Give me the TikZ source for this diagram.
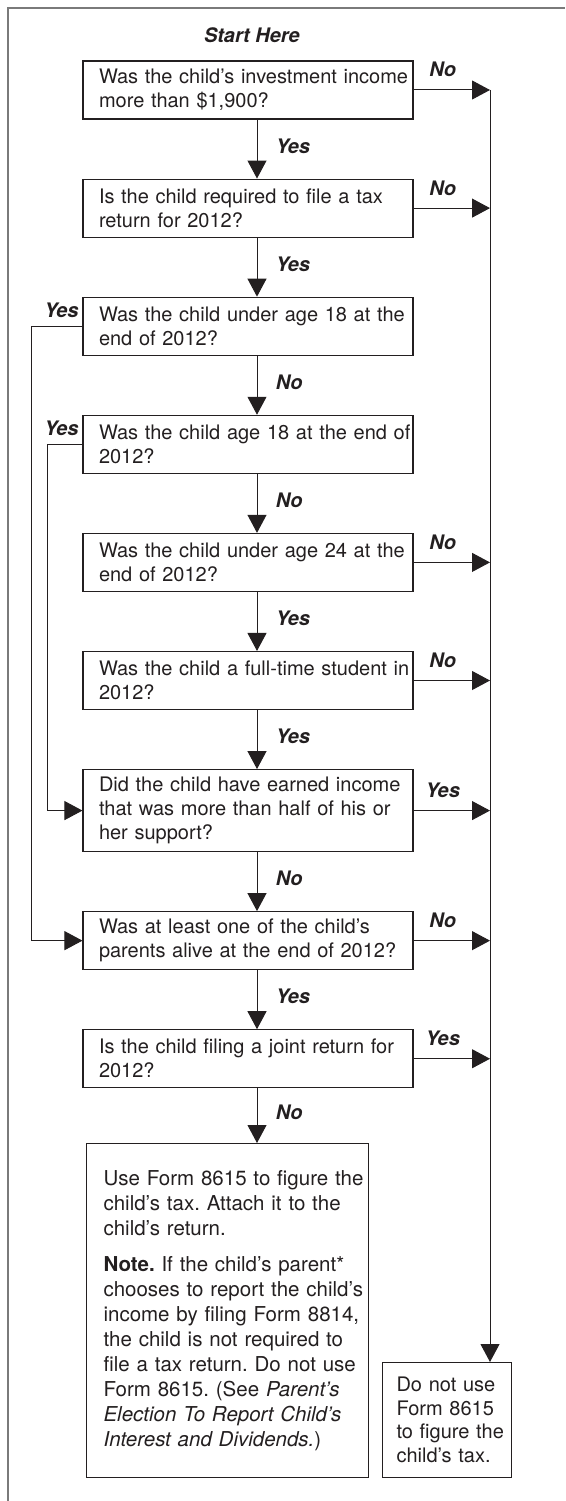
\documentclass[tikz,border=0pt]{standalone}
\usepackage{fontspec}
\setmainfont{TeX Gyre Heros}
\usetikzlibrary{positioning, arrows.meta}
\definecolor{inkgray}{HTML}{231F20}
\definecolor{framegray}{HTML}{7A7A7A}
\frenchspacing

\begin{document}
\begin{tikzpicture}[x=1pt, y=1pt, node distance=59pt,
  every node/.style={font=\fontsize{20}{24}\selectfont, text=inkgray},
  qbox/.style={draw=inkgray, line width=1.1pt, rectangle, text width=330pt,
    inner xsep=0pt, inner ysep=7.5pt, minimum height=58pt, align=left,
    execute at begin node={\leftskip=16pt}, execute at end node={\endgraf}},
  endbox/.style={draw=inkgray, line width=1.1pt, rectangle, anchor=north west,
    inner xsep=0pt, align=left},
  answer/.style={font=\fontsize{20}{24}\selectfont\bfseries\itshape},
  flow/.style={-{Triangle[length=18pt, width=19pt]}, draw=inkgray, line width=1pt}]
\useasboundingbox (0,0) rectangle (565,-1501);
\draw[framegray, line width=1.2pt] (8,-1501) -- (8,-8) -- (565,-8);
\coordinate (spine) at (257,0);
\coordinate (trunk) at (490,0);

\node (start) [answer] at (252,-35) {Start Here};
\node (q1) [qbox] at (248,-90) {Was the child's investment income\\more than \$1,900?};
\node (q2) [qbox, below=of q1] {Is the child required to file a tax\\return for 2012?};
\node (q3) [qbox, below=of q2] {Was the child under age 18 at the\\end of 2012?};
\node (q4) [qbox, below=of q3] {Was the child age 18 at the end of\\2012?};
\node (q5) [qbox, below=of q4] {Was the child under age 24 at the\\end of 2012?};
\node (q6) [qbox, below=of q5] {Was the child a full-time student in\\2012?};
\node (q7) [qbox, below=of q6] {Did the child have earned income\\that was more than half of his or\\her support?};
\node (q8) [qbox, below=of q7] {Was at least one of the child's\\parents alive at the end of 2012?};
\node (q9) [qbox, below=of q8] {Is the child filing a joint return for\\2012?};
\node (use) [endbox, text width=282pt, minimum height=334pt,
  font=\fontsize{20.5}{25}\selectfont] at (86,-1143)
  {\leftskip=17pt Use Form 8615 to figure the\\child's tax. Attach it to the\\child's return.\\[11pt]
   \textbf{Note.} If the child's parent*\\chooses to report the child's\\income by filing Form 8814,\\the child is not required to\\file a tax return. Do not use\\Form 8615. (See \textit{Parent's}\\\textit{Election To Report Child's}\\\textit{Interest and Dividends.})\endgraf};
\node (done) [endbox, text width=129pt, minimum height=115pt,
  font=\fontsize{20}{23.5}\selectfont] at (382,-1362)
  {\leftskip=14pt Do not use\\Form 8615\\to figure the\\child's tax.\endgraf};

% down the middle
\draw[flow] (q1.south -| spine) -- (q2.north -| spine) node[answer, midway, right=15pt, yshift=3pt] {Yes};
\draw[flow] (q2.south -| spine) -- (q3.north -| spine) node[answer, midway, right=15pt, yshift=3pt] {Yes};
\draw[flow] (q3.south -| spine) -- (q4.north -| spine) node[answer, midway, right=15pt, yshift=3pt] {No};
\draw[flow] (q4.south -| spine) -- (q5.north -| spine) node[answer, midway, right=15pt, yshift=3pt] {No};
\draw[flow] (q5.south -| spine) -- (q6.north -| spine) node[answer, midway, right=15pt, yshift=3pt] {Yes};
\draw[flow] (q6.south -| spine) -- (q7.north -| spine) node[answer, midway, right=15pt, yshift=3pt] {Yes};
\draw[flow] (q7.south -| spine) -- (q8.north -| spine) node[answer, midway, right=15pt, yshift=3pt] {No};
\draw[flow] (q8.south -| spine) -- (q9.north -| spine) node[answer, midway, right=15pt, yshift=3pt] {Yes};
\draw[flow] (q9.south -| spine) -- (use.north -| spine) node[answer, midway, right=15pt, yshift=3pt] {No};

% out to the right
\draw[flow] (q1.east) -- (q1.east -| trunk) node[answer, midway, above=9pt, xshift=-9pt] {No};
\draw[flow] (q2.east) -- (q2.east -| trunk) node[answer, midway, above=9pt, xshift=-9pt] {No};
\draw[flow] (q5.east) -- (q5.east -| trunk) node[answer, midway, above=9pt, xshift=-9pt] {No};
\draw[flow] (q6.east) -- (q6.east -| trunk) node[answer, midway, above=9pt, xshift=-9pt] {No};
\draw[flow] (q7.east) -- (q7.east -| trunk) node[answer, midway, above=9pt, xshift=-9pt] {Yes};
\draw[flow] (q8.east) -- (q8.east -| trunk) node[answer, midway, above=9pt, xshift=-9pt] {No};
\draw[flow] (q9.east) -- (q9.east -| trunk) node[answer, midway, above=9pt, xshift=-9pt] {Yes};
\draw[flow] (q1.east -| trunk) -- (trunk |- done.north);

% loops on the left
\draw[flow] (q3.west) node[answer, above left=5pt and 0pt] {Yes} -- ++(-51,0) |- (q8.west);
\draw[flow] (q4.west) node[answer, above left=5pt and 0pt] {Yes} -- ++(-35,0) |- (q7.west);
\end{tikzpicture}
\end{document}
